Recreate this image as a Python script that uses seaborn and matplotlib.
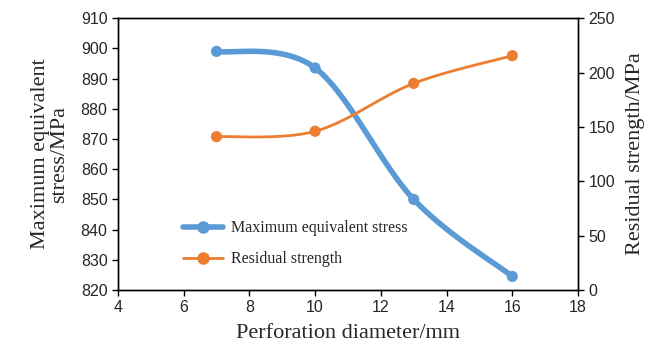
import matplotlib
matplotlib.use('Agg')
import matplotlib.pyplot as plt
import numpy as np
import pandas as pd
import seaborn as sns

# Data
diameter = [7, 10, 13, 16]
max_stress = [899.0, 893.5, 850.0, 824.5]
residual = [141.0, 146.0, 190.0, 215.5]

blue = '#5B9BD5'
orange = '#ED7D31'


def smooth(x, y, n=40):
    # Excel-like smoothed line (Catmull-Rom bezier through the points)
    x = np.asarray(x, float)
    y = np.asarray(y, float)
    px = np.concatenate([[x[0]], x, [x[-1]]])
    py = np.concatenate([[y[0]], y, [y[-1]]])
    xs, ys = [], []
    t = np.linspace(0, 1, n)
    for i in range(1, len(px) - 2):
        p0 = np.array([px[i], py[i]])
        p3 = np.array([px[i + 1], py[i + 1]])
        p1 = p0 + (np.array([px[i + 1], py[i + 1]]) - np.array([px[i - 1], py[i - 1]])) / 6
        p2 = p3 - (np.array([px[i + 2], py[i + 2]]) - np.array([px[i], py[i]])) / 6
        b = ((1 - t) ** 3)[:, None] * p0 + (3 * (1 - t) ** 2 * t)[:, None] * p1 \
            + (3 * (1 - t) * t ** 2)[:, None] * p2 + (t ** 3)[:, None] * p3
        xs.extend(b[:, 0])
        ys.extend(b[:, 1])
    return pd.DataFrame({'x': xs, 'y': ys})


sns.set_style('ticks')
plt.rcParams['font.family'] = ['Liberation Sans', 'DejaVu Sans']
serif = ['Liberation Serif', 'DejaVu Serif']

fig = plt.figure(figsize=(6.48, 3.49), dpi=100)
ax = fig.add_axes([0.182, 0.169, 0.710, 0.779])
ax2 = ax.twinx()

s1 = smooth(diameter, max_stress)
s2 = smooth(diameter, residual)
sns.lineplot(data=s1, x='x', y='y', ax=ax, color=blue, linewidth=4, sort=False, zorder=3)
sns.scatterplot(x=diameter, y=max_stress, ax=ax, color=blue, s=65, edgecolor='none', zorder=4)
sns.lineplot(data=s2, x='x', y='y', ax=ax2, color=orange, linewidth=2, sort=False)
sns.scatterplot(x=diameter, y=residual, ax=ax2, color=orange, s=65, edgecolor='none')

ax.set_xlim(4, 18)
ax.set_ylim(820, 910)
ax.set_xticks(range(4, 19, 2))
ax.set_yticks(range(820, 911, 10))
ax2.set_ylim(0, 250)
ax2.set_yticks(range(0, 251, 50))

for a in (ax, ax2):
    a.tick_params(labelsize=11.5, length=4, width=1, color='black', direction='out')
    for sp in a.spines.values():
        sp.set_visible(True)
        sp.set_color('black')
        sp.set_linewidth(1)

ax.set_xlabel('Perforation diameter/mm', family=serif, fontsize=16, labelpad=6)
ax.set_ylabel('Maximum equivalent\nstress/MPa', family=serif, fontsize=16, linespacing=1.05, labelpad=8)
ax2.set_ylabel('Residual strength/MPa', family=serif, fontsize=16, labelpad=8)

h1 = plt.Line2D([], [], color=blue, linewidth=4, marker='o', markersize=8)
h2 = plt.Line2D([], [], color=orange, linewidth=2, marker='o', markersize=8)
ax.legend([h1, h2], ['Maximum equivalent stress', 'Residual strength'],
          loc='lower left', bbox_to_anchor=(0.11, 0.03), frameon=False,
          handlelength=2.5, handletextpad=0.5, labelspacing=0.95,
          prop={'family': serif, 'size': 11.5})

fig.savefig('out.png', dpi=100)
